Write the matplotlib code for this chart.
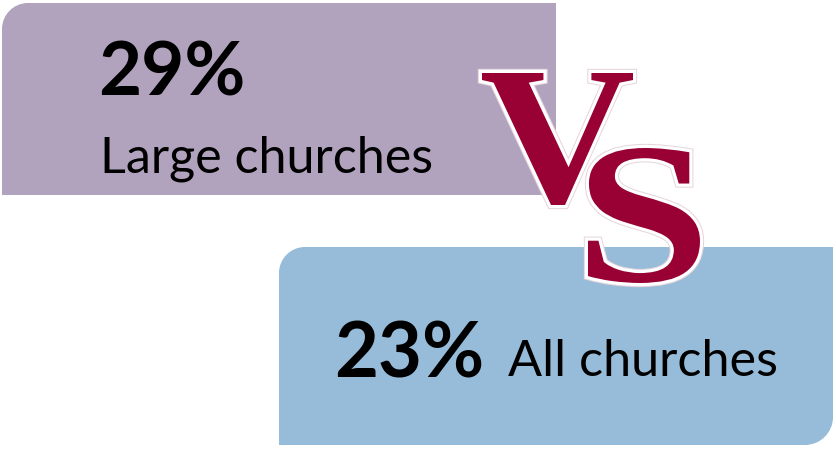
import matplotlib
matplotlib.use("Agg")
import matplotlib.pyplot as plt
from matplotlib.path import Path
from matplotlib.patches import PathPatch
from matplotlib.textpath import TextPath
from matplotlib.font_manager import FontProperties
from matplotlib.transforms import Affine2D
import matplotlib.patheffects as pe

# values shown on the graphic
percents = [29, 23]
groups = ["Large churches", "All churches"]
versus = ["V", "S"]

W, H = 836, 449
PURPLE = "#b1a3be"
BLUE = "#97bcd9"
MAROON = "#990033"
FONT = "Lato"


def box_path(x0, y0, x1, y1, r_tl=0, r_br=0):
    # rectangle in pixel coords (y down), optional round top-left / bottom-right
    k = 0.5523
    verts, codes = [], []
    verts += [(x0, y0 + r_tl)]
    codes += [Path.MOVETO]
    if r_tl:
        verts += [(x0, y0 + r_tl * (1 - k)), (x0 + r_tl * (1 - k), y0), (x0 + r_tl, y0)]
        codes += [Path.CURVE4] * 3
    verts += [(x1, y0), (x1, y1 - r_br)]
    codes += [Path.LINETO] * 2
    if r_br:
        verts += [(x1, y1 - r_br * (1 - k)), (x1 - r_br * (1 - k), y1), (x1 - r_br, y1)]
        codes += [Path.CURVE4] * 3
    verts += [(x0, y1), (x0, y0 + r_tl)]
    codes += [Path.LINETO, Path.CLOSEPOLY]
    return Path(verts, codes)


def fit_text(ax, x, y, s, width, weight="normal"):
    t = ax.text(x, y, s, fontsize=30, fontweight=weight, family=FONT,
                ha="left", va="baseline", color="black")
    r = ax.figure.canvas.get_renderer()
    w = t.get_window_extent(r).width
    t.set_fontsize(30 * width / w)
    return t


def glyph(ax, ch, x0, y0, x1, y1):
    fp = FontProperties(family="Liberation Serif", weight="bold")
    tp = TextPath((0, 0), ch, size=100, prop=fp)
    ext = tp.get_extents()
    sx = (x1 - x0) / ext.width
    sy = (y1 - y0) / ext.height
    tr = Affine2D().translate(-ext.x0, -ext.y1).scale(sx, -sy).translate(x0, y0)
    p = PathPatch(tr.transform_path(tp), facecolor=MAROON, edgecolor="none", zorder=5)
    p.set_path_effects([pe.Stroke(linewidth=6, foreground="#e6d6de"),
                        pe.Stroke(linewidth=4.5, foreground="white"),
                        pe.Normal()])
    ax.add_patch(p)


fig = plt.figure(figsize=(W / 100, H / 100), dpi=100)
ax = fig.add_axes([0, 0, 1, 1])
ax.set_xlim(0, W)
ax.set_ylim(H, 0)
ax.axis("off")

ax.add_patch(PathPatch(box_path(2, 3, 556, 195, r_tl=26), facecolor=PURPLE,
                       edgecolor="none", zorder=1))
ax.add_patch(PathPatch(box_path(279, 247, 833, 445, r_tl=26, r_br=28), facecolor=BLUE,
                       edgecolor="none", zorder=1))

fit_text(ax, 98, 95, f"{percents[0]}%", 147, weight="bold")
fit_text(ax, 100, 172, groups[0], 333)
fit_text(ax, 334, 377, f"{percents[1]}%", 150, weight="bold")
fit_text(ax, 508, 376, groups[1], 270)

glyph(ax, versus[0], 482, 73, 633, 205)
glyph(ax, versus[1], 588, 148, 700, 283)

fig.savefig("out.png", dpi=100)
